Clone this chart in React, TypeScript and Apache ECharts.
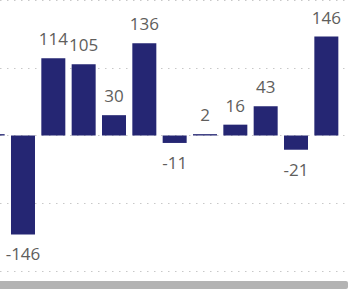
import React, { useEffect, useRef } from "react";
import * as echarts from "echarts";

// Category order (partially scrolled view: the first bar is cut off on the left)
const categories = ["C0", "C1", "C2", "C3", "C4", "C5", "C6", "C7", "C8", "C9", "C10", "C11"];
const values = [2, -146, 114, 105, 30, 136, -11, 2, 16, 43, -21, 146];
const yTicks = [-200, -100, 0, 100, 200];

export default function App() {
  const ref = useRef<HTMLDivElement>(null);
  useEffect(() => {
    document.body.style.margin = "0";
    if (!ref.current) return;
    const chart = echarts.init(ref.current, undefined, { renderer: "svg" });
    const data = values.map((v, i) => ({
      value: [i, v],
      name: categories[i],
      label: { show: i > 0, position: v < 0 ? "bottom" : "top" },
    }));
    chart.setOption({
      animation: false,
      grid: { left: 0, right: 0, top: 0, bottom: 18, containLabel: false },
      xAxis: {
        type: "value",
        min: 0.242,
        max: 11.78,
        axisLine: { show: false },
        axisTick: { show: false },
        axisLabel: { show: false },
        splitLine: { show: false },
      },
      yAxis: {
        type: "value",
        min: yTicks[0],
        max: yTicks[yTicks.length - 1],
        interval: 100,
        axisLine: { show: false },
        axisTick: { show: false },
        axisLabel: { show: false },
        splitLine: {
          show: true,
          lineStyle: { color: "#c8c8c8", width: 1, type: [1.5, 5.5] },
        },
      },
      series: [
        {
          type: "bar",
          data,
          barWidth: 24,
          itemStyle: { color: "#252673" },
          label: {
            show: true,
            distance: 11,
            color: "#605e5c",
            fontFamily: "Open Sans",
            fontSize: 17,
            formatter: (p: any) => String(p.value[1]),
          },
        },
      ],
      graphic: [
        {
          type: "rect",
          shape: { x: 0, y: 281, width: 348, height: 8, r: [0, 2, 2, 0] },
          style: { fill: "#b3b3b3" },
        },
      ],
    });
    return () => chart.dispose();
  }, []);
  return <div ref={ref} style={{ width: 350, height: 289 }} />;
}
